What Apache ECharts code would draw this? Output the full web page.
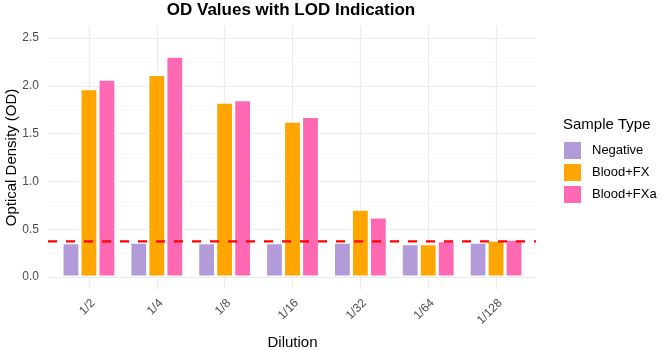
<!DOCTYPE html>
<html>
<head>
<meta charset="utf-8">
<script src="https://cdn.jsdelivr.net/npm/echarts@6/dist/echarts.min.js"></script>
<style>
html,body{margin:0;padding:0;background:#fff;}
#chart{width:661px;height:350px;}
</style>
</head>
<body>
<div id="chart"></div>
<script>
const categories = ['1/2', '1/4', '1/8', '1/16', '1/32', '1/64', '1/128'];
const seriesNames = ['Negative', 'Blood+FX', 'Blood+FXa'];
const negative = [0.36, 0.366, 0.36, 0.36, 0.366, 0.348, 0.366];
const bloodFX = [1.97, 2.12, 1.83, 1.63, 0.71, 0.348, 0.387];
const bloodFXa = [2.07, 2.31, 1.855, 1.68, 0.628, 0.38, 0.397];
const lodValue = 0.373;
const yMin = 0, yMax = 2.5, yStep = 0.5;
const colors = ['#B19CD9', '#FFA500', '#FF69B4'];

const FONT = 'Liberation Sans, Arial, sans-serif';
const chart = echarts.init(document.getElementById('chart'));

function barSeries(name, data, color) {
  return {
    name: name, type: 'bar', xAxisIndex: 0, yAxisIndex: 0,
    data: data, barWidth: 18, barGap: '0%', z: 3,
    itemStyle: { color: color, borderColor: '#ffffff', borderWidth: 1.6 },
    emphasis: { disabled: true }
  };
}

const option = {
  animation: false,
  title: {
    text: 'OD Values with LOD Indication',
    left: 291, top: 2, textAlign: 'center', padding: 0,
    textStyle: { fontFamily: FONT, fontSize: 17, fontWeight: 'bold', color: '#000' }
  },
  legend: {
    data: seriesNames, orient: 'vertical', left: 562, top: 140,
    itemWidth: 19, itemHeight: 19, itemGap: 1, icon: 'rect', padding: 0,
    textStyle: { fontFamily: FONT, fontSize: 13, color: '#000', padding: [0, 0, 0, 5] },
    selectedMode: false
  },
  graphic: [{
    type: 'text', left: 563, top: 117,
    style: { text: 'Sample Type', font: '15px ' + FONT, fill: '#000' }
  }],
  grid: [
    { left: 55, top: 26, width: 475, height: 263, outerBoundsMode: 'none', containLabel: false },
    { left: 48, top: 38, width: 488, height: 239, outerBoundsMode: 'none', containLabel: false }
  ],
  xAxis: [
    {
      type: 'category', gridIndex: 0, data: categories,
      axisLine: { show: false }, axisTick: { show: false },
      splitLine: { show: true, alignWithLabel: true, lineStyle: { color: '#ebebeb', width: 1.2 } },
      axisLabel: { rotate: 45, fontFamily: FONT, fontSize: 12, color: '#4d4d4d', margin: 8, verticalAlign: 'top' },
      name: 'Dilution', nameLocation: 'middle', nameGap: 46, nameMoveOverlap: false,
      nameTextStyle: { fontFamily: FONT, fontSize: 15, color: '#000' }
    },
    {
      type: 'value', gridIndex: 1, min: 0, max: 1, show: false
    }
  ],
  yAxis: [
    { type: 'value', gridIndex: 0, min: yMin - 0.125, max: yMax + 0.125, show: false },
    {
      type: 'value', gridIndex: 1, min: yMin, max: yMax, interval: yStep,
      axisLine: { show: false }, axisTick: { show: false },
      axisLabel: { fontFamily: FONT, fontSize: 12, color: '#4d4d4d', margin: 9,
        formatter: v => v.toFixed(1) },
      splitLine: { show: true, lineStyle: { color: '#ebebeb', width: 1.2 } },
      minorTick: { show: false, splitNumber: 2 },
      minorSplitLine: { show: true, lineStyle: { color: '#f2f2f2', width: 0.7 } },
      name: 'Optical Density (OD)', nameLocation: 'middle', nameGap: 29, nameMoveOverlap: false,
      nameTextStyle: { fontFamily: FONT, fontSize: 15, color: '#000' }
    }
  ],
  series: [
    barSeries(seriesNames[0], negative, colors[0]),
    barSeries(seriesNames[1], bloodFX, colors[1]),
    barSeries(seriesNames[2], bloodFXa, colors[2]),
    {
      name: 'LOD', type: 'line', xAxisIndex: 1, yAxisIndex: 1, z: 10,
      data: [[0, lodValue], [1, lodValue]], symbol: 'none', silent: true,
      lineStyle: { color: '#ff0000', width: 2.4, type: [9, 9] }
    }
  ]
};
chart.setOption(option);
</script>
</body>
</html>
